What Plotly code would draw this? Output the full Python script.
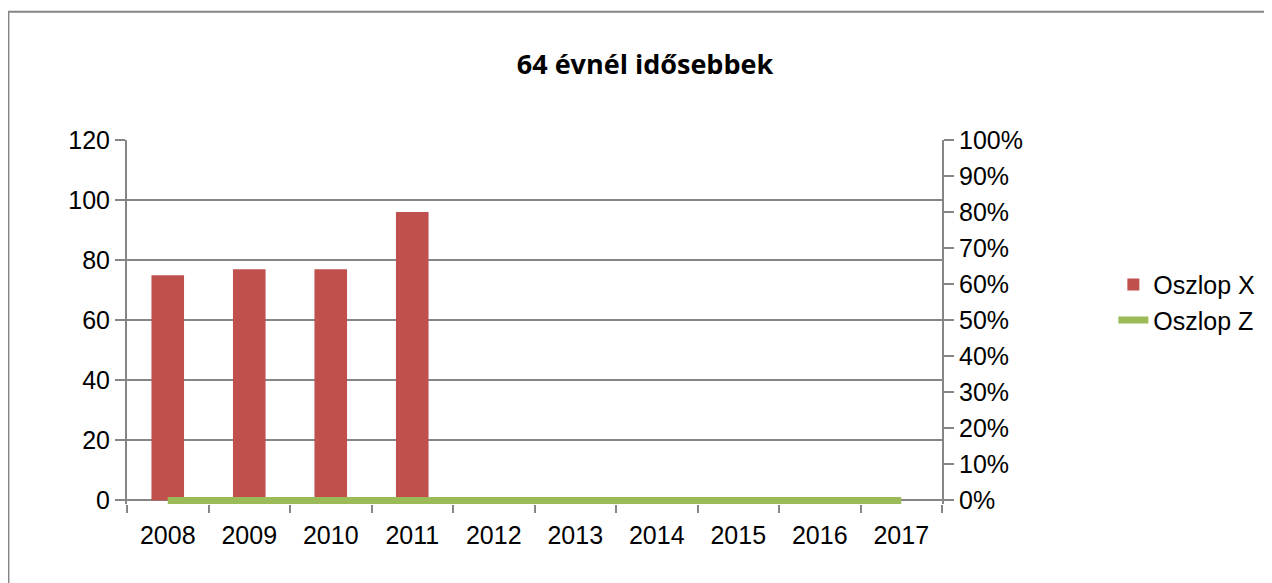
import plotly.graph_objects as go

years = ["2008", "2009", "2010", "2011", "2012", "2013", "2014", "2015", "2016", "2017"]
oszlop_x = [75, 77, 77, 96, None, None, None, None, None, None]
oszlop_z = [0, 0, 0, 0, 0, 0, 0, 0, 0, 0]

OFF = 8  # page body margin
W, H = 1272 - OFF, 583 - OFF
L, R = 127 - OFF, 945 - OFF
TOP, ZERO = 140 - OFF, 500 - OFF
px_per_unit = (ZERO - TOP) / 120.0
y_lo = -1.2
BOTTOM = ZERO - y_lo * px_per_unit

GRAY = "#868686"
FONT = "Liberation Sans, Arial, sans-serif"
FS = 25

fig = go.Figure()
fig.add_bar(x=years, y=oszlop_x, name="Oszlop X", marker_color="#C0504D",
            marker_line_width=0, yaxis="y")
fig.add_scatter(x=years, y=oszlop_z, name="Oszlop Z", mode="lines",
                line=dict(color="#9BBB59", width=7), yaxis="y2")

def px_to_paper_x(p):
    return (p - OFF - L) / (R - L)

def px_to_paper_y(p):
    return (BOTTOM - (p - OFF)) / (BOTTOM - TOP)

fig.update_layout(
    width=W, height=H,
    margin=dict(l=L, r=W - R, t=TOP, b=H - BOTTOM, pad=0),
    paper_bgcolor="white", plot_bgcolor="white",
    font=dict(family=FONT, size=FS, color="black"),
    bargap=0.6,
    title=dict(text="<b>64 évnél idősebbek</b>", x=(645 - OFF) / W, xanchor="center",
               y=1 - (65 - OFF) / H, yanchor="middle", xref="container", yref="container",
               font=dict(family="Open Sans, sans-serif", size=27, color="black")),
    xaxis=dict(type="category", range=[-0.5, 9.5], tickson="boundaries",
               ticks="outside", ticklen=8, tickwidth=2, tickcolor=GRAY,
               showline=False, showgrid=False, zeroline=False,
               ticklabelstandoff=14,
               tickfont=dict(size=FS), fixedrange=True),
    yaxis=dict(range=[y_lo, 120], tick0=0, dtick=20, showgrid=True,
               gridcolor=GRAY, gridwidth=2, zeroline=True, zerolinecolor=GRAY,
               zerolinewidth=2, showline=True, linecolor=GRAY, linewidth=2,
               ticks="outside", ticklen=10, tickwidth=2, tickcolor=GRAY,
               tickfont=dict(size=FS)),
    yaxis2=dict(range=[y_lo / 120, 1], tick0=0, dtick=0.1, tickformat=".0%",
                overlaying="y", side="right", showgrid=False, zeroline=False,
                showline=True, linecolor=GRAY, linewidth=2,
                ticks="outside", ticklen=10, tickwidth=2, tickcolor=GRAY,
                tickfont=dict(size=FS)),
    legend=dict(x=px_to_paper_x(1117), xanchor="left", y=px_to_paper_y(302),
                yanchor="middle", font=dict(size=FS), bgcolor="rgba(0,0,0,0)"),
    shapes=[dict(type="rect", xref="paper", yref="paper",
                 x0=px_to_paper_x(8), x1=px_to_paper_x(1300),
                 y0=px_to_paper_y(620), y1=px_to_paper_y(12),
                 line=dict(color=GRAY, width=2), fillcolor="rgba(0,0,0,0)",
                 layer="below")],
)

fig.write_html("out.html")
